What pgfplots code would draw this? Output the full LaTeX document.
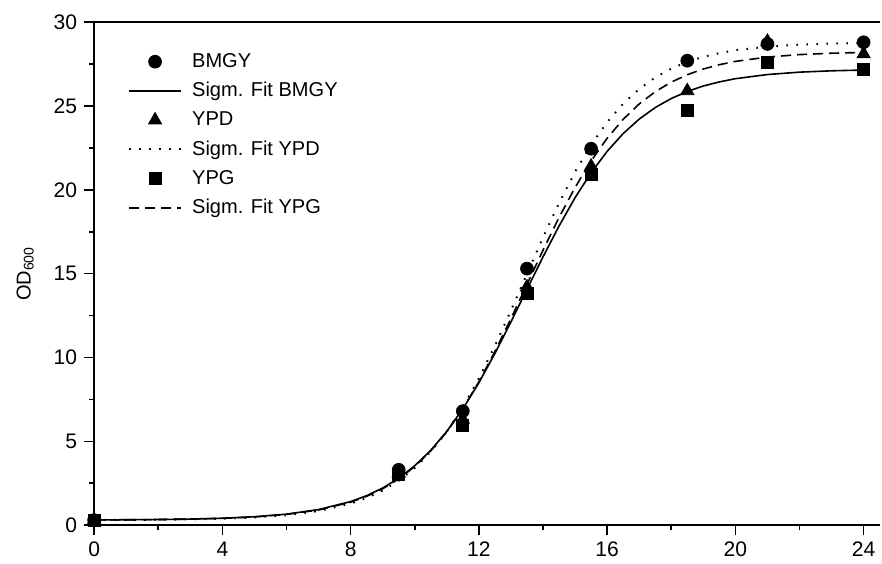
\documentclass[border=0pt]{standalone}
\usepackage{fontspec}
\setmainfont{Liberation Sans}
\usepackage{pgfplots}
\pgfplotsset{compat=1.18}

\begin{document}
\begin{tikzpicture}
\begin{axis}[
scale only axis,
width=392pt,
height=251pt,
xmin=0, xmax=24.5,
ymin=0, ymax=30,
axis y line*=left,
y axis line style={-},
xtick pos=bottom,
xtick={0,4,...,24},
ytick={0,5,...,30},
minor x tick num=1,
minor y tick num=1,
tick align=outside,
major tick length=5pt,
minor tick length=2.5pt,
tick style={black, line width=0.8pt},
axis line style={line width=1pt},
ticklabel style={font=\fontsize{10.5}{12}\selectfont},
/pgf/number format/assume math mode=true,
ylabel={OD\textsubscript{600}},
ylabel style={font=\fontsize{10}{12}\selectfont, yshift=3pt},
clip=false,
legend style={draw=none, fill=none, at={(0.035,0.955)}, anchor=north west,
  font=\fontsize{10}{12}\selectfont, row sep=2pt,
  /tikz/every odd column/.append style={column sep=3pt}},
legend cell align=left,
legend image code/.code={\draw[mark repeat=2,mark phase=2,#1] plot coordinates {(0pt,0pt) (13pt,0pt) (26pt,0pt)};},
]

% BMGY points
\addplot[only marks, mark=*, mark size=3.2pt, black] coordinates {
(0,0.3) (9.5,3.3) (11.5,6.8) (13.5,15.3) (15.5,22.45) (18.5,27.7) (21,28.7) (24,28.8)
};
% Sigm. Fit BMGY (solid)
\addplot[black, line width=0.8pt, no marks] coordinates {
(0,0.311) (1,0.320) (2,0.335) (3,0.363) (4,0.412) (5,0.500) (6,0.655) (7,0.928)
(8,1.404) (8.5,1.757) (9,2.212) (9.5,2.799) (10,3.541) (10.5,4.463) (11,5.591)
(11.5,6.937) (12,8.491) (12.5,10.237) (13,12.120) (13.5,14.063) (14,15.997)
(14.5,17.839) (15,19.528) (15.5,21.016) (16,22.293) (16.5,23.353) (17,24.216)
(17.5,24.905) (18,25.446) (18.5,25.866) (19,26.191) (19.5,26.436) (20,26.627)
(21,26.875) (22,27.018) (23,27.098) (24,27.143)
};

% YPD points
\addplot[only marks, mark=triangle*, mark size=3.8pt, black] coordinates {
(0,0.3) (9.5,3.1) (11.5,6.3) (13.5,14.2) (15.5,21.4) (18.5,25.9) (21,28.85) (24,28.1)
};
% Sigm. Fit YPD (dotted)
\addplot[black, line width=1pt, dash pattern=on 0.8pt off 4.2pt, no marks] coordinates {
(0,0.307) (1,0.314) (2,0.325) (3,0.346) (4,0.386) (5,0.459) (6,0.593) (7,0.838)
(8,1.282) (8.5,1.620) (9,2.068) (9.5,2.655) (10,3.412) (10.5,4.377) (11,5.579)
(11.5,7.036) (12,8.750) (12.5,10.689) (13,12.800) (13.5,14.989) (14,17.158)
(14.5,19.211) (15,21.068) (15.5,22.677) (16,24.032) (16.5,25.138) (17,26.013)
(17.5,26.700) (18,27.228) (18.5,27.629) (19,27.931) (19.5,28.153) (20,28.324)
(21,28.541) (22,28.660) (23,28.724) (24,28.759)
};

% YPG points
\addplot[only marks, mark=square*, mark size=3pt, black] coordinates {
(0,0.3) (9.5,3.0) (11.5,5.95) (13.5,13.8) (15.5,20.9) (18.5,24.75) (21,27.6) (24,27.2)
};
% Sigm. Fit YPG (dashed)
\addplot[black, line width=0.8pt, dash pattern=on 5pt off 3pt, no marks] coordinates {
(0,0.310) (1,0.318) (2,0.333) (3,0.359) (4,0.405) (5,0.489) (6,0.639) (7,0.905)
(8,1.370) (8.5,1.718) (9,2.170) (9.5,2.754) (10,3.497) (10.5,4.428) (11,5.572)
(11.5,6.946) (12,8.548) (12.5,10.357) (13,12.316) (13.5,14.357) (14,16.396)
(14.5,18.348) (15,20.136) (15.5,21.721) (16,23.074) (16.5,24.203) (17,25.120)
(17.5,25.850) (18,26.422) (18.5,26.864) (19,27.205) (19.5,27.462) (20,27.660)
(21,27.918) (22,28.065) (23,28.147) (24,28.193)
};

\legend{BMGY, Sigm. Fit BMGY, YPD, Sigm. Fit YPD, YPG, Sigm. Fit YPG}
\end{axis}
% a little white margin at the left and top, as in the reference
\path (current bounding box.north west) ++(-5pt,4pt);
\end{tikzpicture}
\end{document}
